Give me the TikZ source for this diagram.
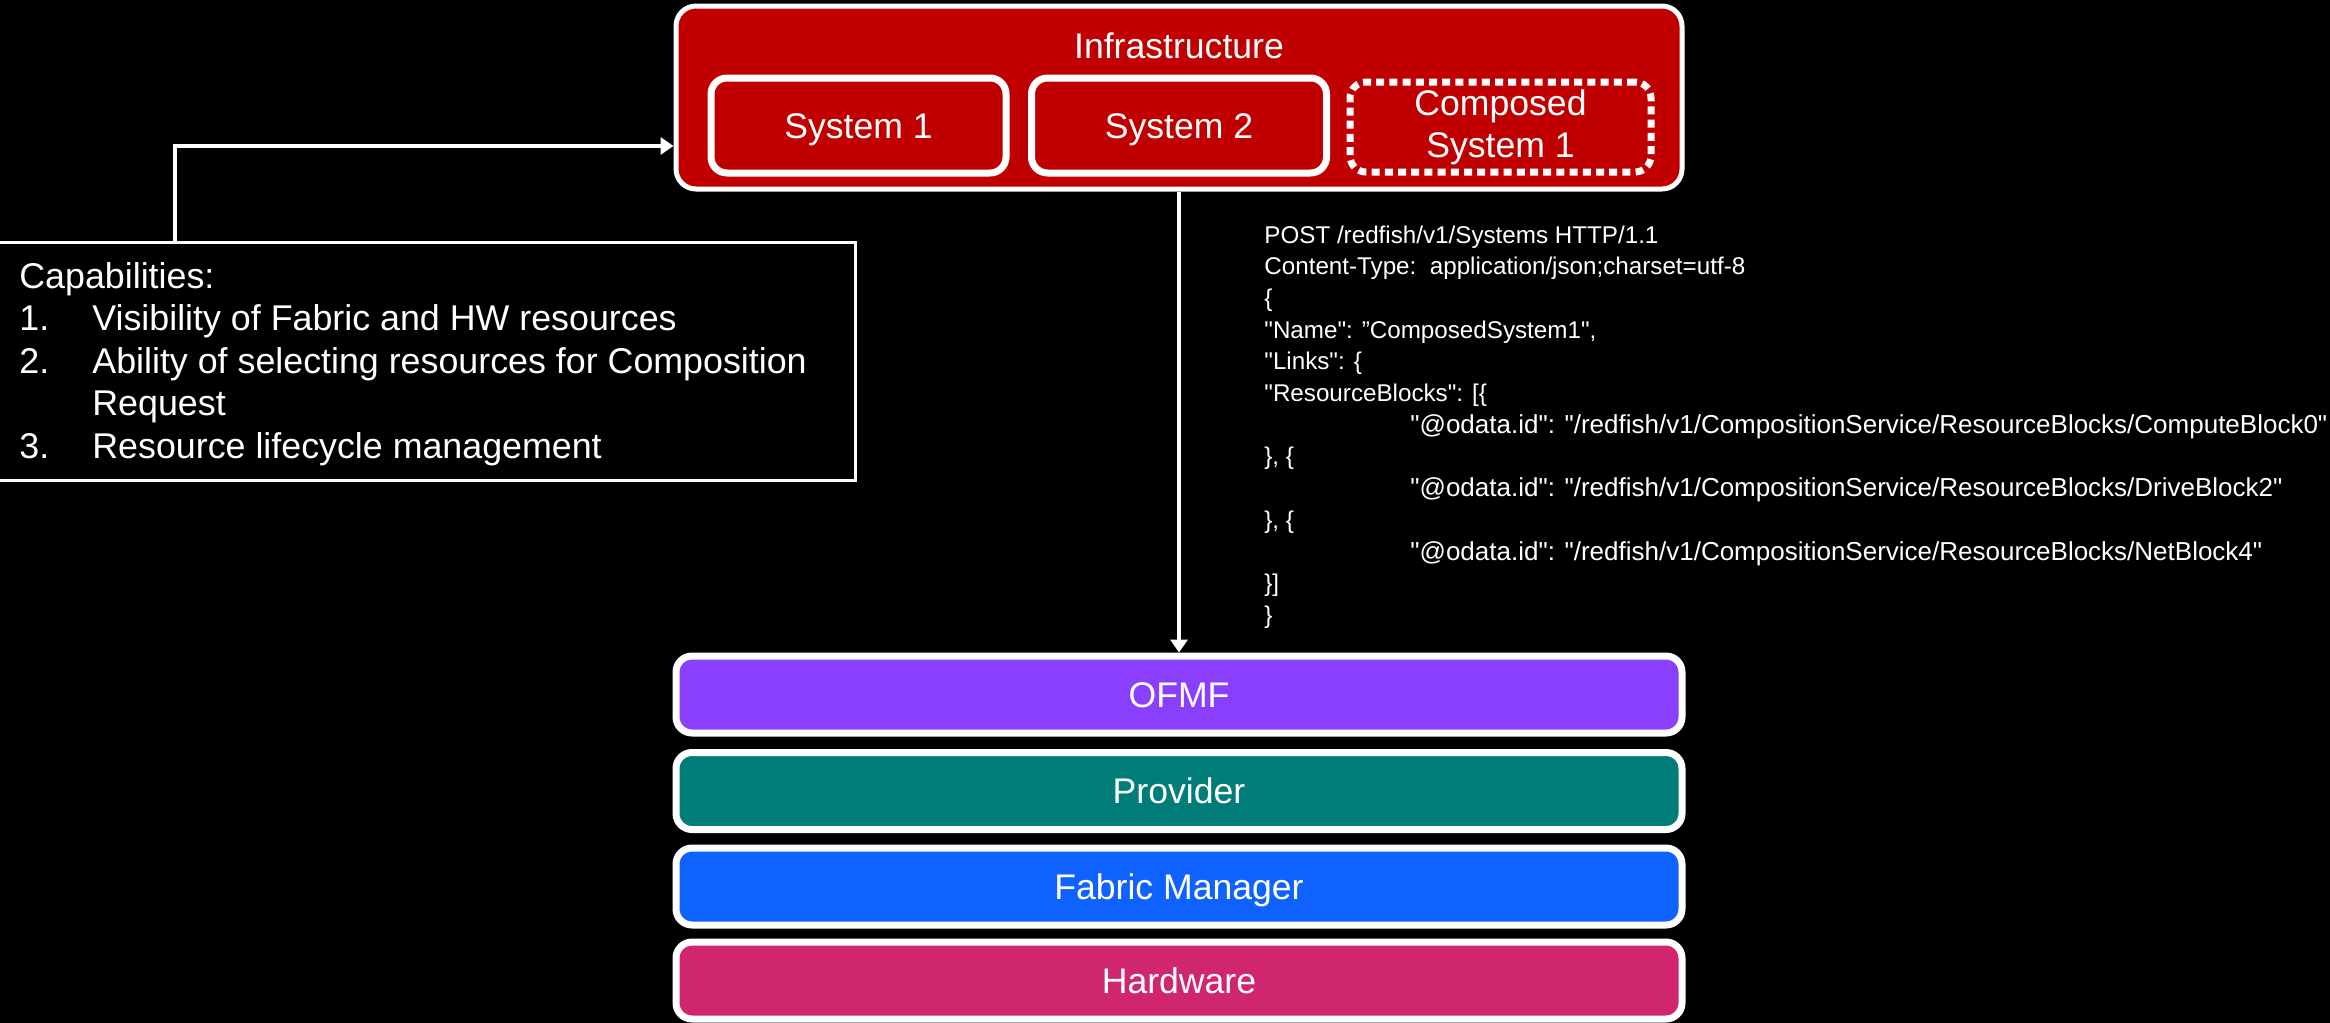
\documentclass[tikz,border=0pt]{standalone}
\usepackage{fontspec}
\setmainfont{Liberation Sans}
\newfontfamily\jsonfam{Liberation Sans}[Ligatures=TeXOff]
\usetikzlibrary{arrows.meta}
\definecolor{infrared}{HTML}{C00000}
\definecolor{ofmfc}{HTML}{8A3FFC}
\definecolor{provc}{HTML}{007D79}
\definecolor{fabc}{HTML}{0F62FE}
\definecolor{hwc}{HTML}{D02670}
\newcommand\dgbig{\fontsize{17.8}{21}\selectfont}
\newcommand\dgcap{\fontsize{17.9}{21.25}\selectfont}
\newcommand\dgjson{\jsonfam\fontsize{12.1}{15.85}\selectfont}
\newcommand\dgodata{\jsonfam\fontsize{13}{15.85}\selectfont}
\begin{document}
\begin{tikzpicture}[x=0.5pt,y=-0.5pt,
  box/.style={draw=white, text=white, rounded corners=8pt, inner sep=0pt, font=\dgbig},
  oneline/.style={text height=12.5pt, text depth=0pt},
  sysbox/.style={box, oneline, fill=infrared, line width=3.5pt, minimum width=147.5pt, minimum height=47.5pt},
  layer/.style={box, oneline, line width=3.5pt, minimum width=503pt, minimum height=38.5pt},
  arr/.style={draw=white, line width=1.8pt, -{Triangle[width=8.5pt,length=6.5pt]}},
  captxt/.style={text=white, font=\dgcap, inner sep=0pt, anchor=base west},
  json/.style={text=white, font=\dgjson, inner sep=0pt, anchor=base west},
  odata/.style={json, font=\dgodata}]
\fill[black] (0,0) rectangle (2330,1023);
\useasboundingbox (0,0) rectangle (2330,1023);

% Infrastructure
\node[draw=white, line width=2.5pt, fill=infrared, rounded corners=10pt,
      minimum width=503pt, minimum height=91.5pt, inner sep=0pt] (infra) at (1179,97.5) {};
\node[text=white, font=\dgbig, inner sep=0pt, anchor=base] (infratitle) at (1179,58) {Infrastructure};
\node[sysbox] (sys1) at (858.5,125.5) {System 1};
\node[sysbox] (sys2) at (1179,125.5) {System 2};
\node[box, fill=infrared, line width=3.5pt, dash pattern=on 4pt off 2.6pt,
      minimum width=150.5pt, minimum height=45pt, align=center] (comp) at (1500.5,127) {Composed\\System 1};

% Layers
\node[layer, fill=ofmfc] (ofmf) at (1179,694.5) {OFMF};
\node[layer, fill=provc] (prov) at (1179,791) {Provider};
\node[layer, fill=fabc] (fab) at (1179,886.5) {Fabric Manager};
\node[layer, fill=hwc] (hw) at (1179,980.5) {Hardware};

% Capabilities
\node[draw=white, line width=1.5pt, minimum width=430pt, minimum height=119pt, inner sep=0pt] (capbox) at (425,361) {};
\coordinate (capbend) at (175,146);
\draw[arr] (capbox.north -| capbend) -- (capbend) -- (infra.west |- capbend);
\draw[arr] (infra.south) -- (ofmf.north);

\node[captxt] (captitle) at (19,288) {Capabilities:};
\node[captxt] (n1) at (19,330.5) {1.};
\node[captxt] (i1) at (92,330.5) {Visibility of Fabric and HW resources};
\node[captxt] (n2) at (19,373) {2.};
\node[captxt] (i2) at (92,373) {Ability of selecting resources for Composition};
\node[captxt] (i2b) at (92,415.5) {Request};
\node[captxt] (n3) at (19,458) {3.};
\node[captxt] (i3) at (92,458) {Resource lifecycle management};

% JSON request
\node[json] (j0) at (1264,243) {POST /redfish/v1/Systems HTTP/1.1};
\node[json] (j1) at (1264,274.7) {Content-Type:\ \ application/json;charset=utf-8};
\node[json] (j2) at (1264,306.4) {\{};
\node[json] (j3) at (1264,338.1) {"Name": ”ComposedSystem1",};
\node[json] (j4) at (1264,369.8) {"Links": \{};
\node[json] (j5) at (1264,401.5) {"ResourceBlocks": [\{};
\node[odata] (j6) at (1410,433.2) {"@odata.id": "/redfish/v1/CompositionService/ResourceBlocks/ComputeBlock0"};
\node[json] (j7) at (1264,464.9) {\}, \{};
\node[odata] (j8) at (1410,496.6) {"@odata.id": "/redfish/v1/CompositionService/ResourceBlocks/DriveBlock2"};
\node[json] (j9) at (1264,528.3) {\}, \{};
\node[odata] (j10) at (1410,560) {"@odata.id": "/redfish/v1/CompositionService/ResourceBlocks/NetBlock4"};
\node[json] (j11) at (1264,591.7) {\}]};
\node[json] (j12) at (1264,623.4) {\}};
\end{tikzpicture}
\end{document}
